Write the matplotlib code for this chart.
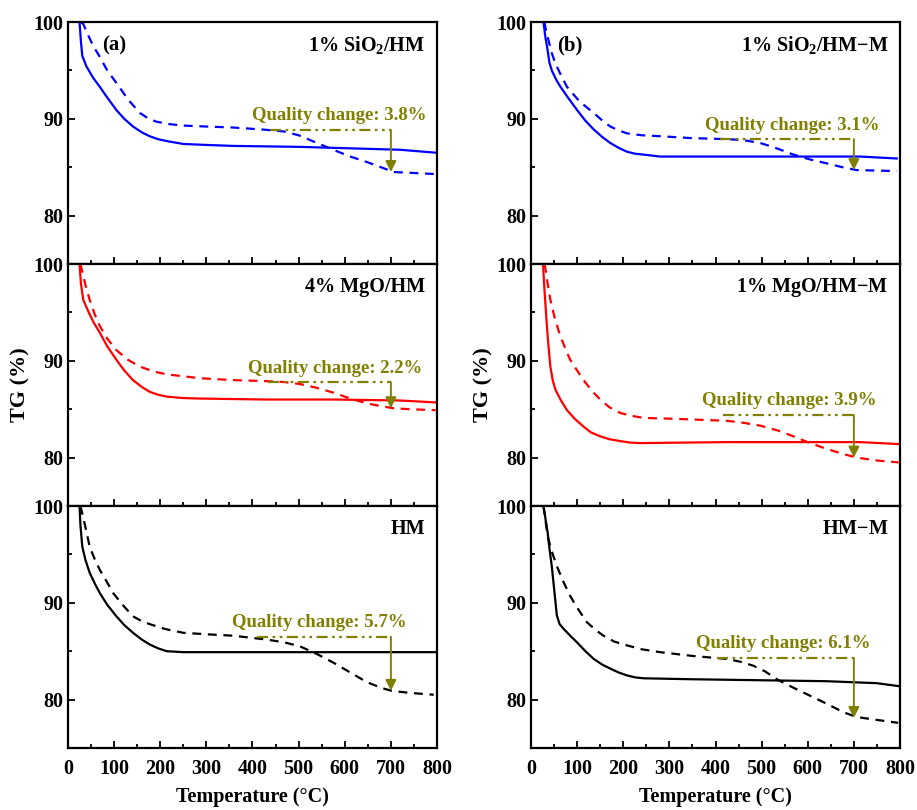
import matplotlib
matplotlib.use("Agg")
import matplotlib.pyplot as plt
from matplotlib.ticker import MultipleLocator

plt.rcParams['font.family'] = ['Liberation Serif', 'DejaVu Serif']
plt.rcParams['font.weight'] = 'bold'
plt.rcParams['mathtext.fontset'] = 'custom'
plt.rcParams['mathtext.rm'] = 'Liberation Serif:bold'
plt.rcParams['mathtext.it'] = 'Liberation Serif:bold'
plt.rcParams['mathtext.bf'] = 'Liberation Serif:bold'

OLIVE = '#807f00'

# ---- data: temperature (°C) and TG (%) ----
# (a) top: 1% SiO2/HM
a1_solid_t = [25, 28, 31, 40, 55, 69, 85, 105, 122, 141, 160, 177, 195, 214, 250, 300, 358, 503, 648, 720, 797]
a1_solid_y = [100.0, 98.0, 96.5, 95.4, 94.2, 93.3, 92.2, 90.9, 90.0, 89.2, 88.6, 88.2, 87.9, 87.7, 87.4, 87.3,
              87.2, 87.1, 86.9, 86.8, 86.5]
a1_dash_t = [28, 33, 45, 55, 69, 85, 105, 130, 156, 175, 192, 220, 250, 300, 358, 420, 467, 500, 540, 575, 612,
             650, 684, 706, 730, 793]
a1_dash_y = [100.0, 99.8, 98.5, 97.5, 96.4, 95.0, 93.7, 92.0, 90.6, 90.0, 89.7, 89.45, 89.3, 89.2, 89.1, 88.9,
             88.7, 88.3, 87.5, 86.8, 86.1, 85.5, 84.9, 84.5, 84.45, 84.3]

# (b) top: 1% SiO2/HM-M
b1_solid_t = [27, 31, 36, 40, 45, 55, 64, 80, 100, 118, 136, 155, 172, 190, 208, 225, 244, 280, 425, 569, 713, 793]
b1_solid_y = [100.0, 98.5, 97.1, 95.8, 95.0, 94.0, 93.3, 92.2, 90.9, 89.8, 88.9, 88.1, 87.5, 87.0, 86.6, 86.4,
              86.3, 86.1, 86.1, 86.1, 86.1, 85.9]
b1_dash_t = [29, 33, 38, 45, 53, 65, 78, 105, 136, 155, 172, 190, 208, 240, 280, 350, 425, 460, 497, 530, 569,
             605, 641, 675, 706, 793]
b1_dash_y = [100.0, 99.0, 98.1, 96.8, 95.7, 94.5, 93.3, 91.8, 90.6, 89.8, 89.2, 88.8, 88.5, 88.3, 88.2, 88.0,
             87.9, 87.8, 87.5, 87.0, 86.3, 85.8, 85.4, 85.0, 84.7, 84.6]

# (a) middle: 4% MgO/HM
a2_solid_t = [25, 28, 33, 45, 55, 69, 85, 105, 122, 141, 160, 177, 195, 214, 250, 286, 431, 576, 720, 797]
a2_solid_y = [100.0, 98.0, 96.3, 95.0, 94.0, 92.9, 91.5, 90.1, 89.0, 88.0, 87.3, 86.8, 86.5, 86.3, 86.15, 86.1,
              86.0, 86.0, 85.9, 85.7]
a2_dash_t = [27, 30, 38, 47, 58, 69, 85, 105, 130, 156, 185, 214, 250, 286, 360, 431, 470, 503, 540, 576, 612,
             648, 680, 706, 740, 797]
a2_dash_y = [100.0, 99.4, 97.8, 96.3, 94.8, 93.6, 92.3, 91.1, 90.1, 89.4, 88.9, 88.6, 88.4, 88.2, 88.0, 87.9,
             87.8, 87.6, 87.2, 86.7, 86.1, 85.6, 85.3, 85.1, 85.0, 84.9]

# (b) middle: 1% MgO/HM-M
b2_solid_t = [26, 29, 33, 37, 42, 47, 53, 65, 78, 95, 114, 130, 150, 170, 194, 215, 237, 425, 569, 713, 797]
b2_solid_y = [100.0, 97.5, 94.6, 92.0, 89.4, 88.0, 87.0, 85.9, 84.9, 84.0, 83.2, 82.6, 82.2, 81.9, 81.7, 81.55,
              81.5, 81.6, 81.6, 81.6, 81.4]
b2_dash_t = [29, 31, 36, 42, 52, 64, 75, 85, 100, 114, 132, 150, 170, 194, 220, 244, 316, 425, 460, 497, 535,
             569, 605, 641, 675, 706, 750, 797]
b2_dash_y = [100.0, 99.6, 98.0, 96.3, 94.3, 92.5, 91.2, 90.1, 89.0, 88.0, 86.9, 86.0, 85.2, 84.6, 84.3, 84.1,
             84.0, 83.8, 83.6, 83.3, 82.8, 82.2, 81.5, 80.9, 80.4, 80.0, 79.7, 79.5]

# (a) bottom: HM
a3_solid_t = [25, 27, 31, 38, 47, 58, 69, 85, 105, 122, 141, 160, 177, 195, 214, 250, 431, 576, 797]
a3_solid_y = [100.0, 98.0, 95.8, 94.4, 93.1, 92.0, 91.0, 89.8, 88.6, 87.7, 86.9, 86.2, 85.7, 85.3, 85.0, 84.9,
              84.9, 84.9, 84.9]
a3_dash_t = [27, 29, 36, 47, 58, 69, 85, 98, 120, 141, 160, 177, 210, 250, 300, 358, 431, 470, 503, 540, 576,
             612, 648, 680, 702, 740, 793]
a3_dash_y = [100.0, 99.6, 98.2, 95.8, 94.5, 93.4, 92.1, 91.0, 89.7, 88.6, 88.1, 87.8, 87.3, 86.9, 86.75, 86.6,
             86.2, 85.9, 85.5, 84.7, 83.8, 82.8, 81.8, 81.2, 80.9, 80.7, 80.5]

# (b) bottom: HM-M
b3_solid_t = [27, 31, 36, 40, 45, 50, 56, 62, 71, 85, 100, 118, 136, 155, 172, 190, 208, 225, 244, 352, 497,
              641, 749, 796]
b3_solid_y = [100.0, 98.8, 97.3, 95.6, 93.8, 91.5, 88.7, 87.8, 87.3, 86.6, 85.9, 85.0, 84.2, 83.6, 83.2, 82.8,
              82.5, 82.3, 82.2, 82.1, 82.0, 81.9, 81.7, 81.4]
b3_dash_t = [27, 30, 36, 45, 56, 70, 85, 100, 121, 140, 157, 180, 208, 240, 280, 352, 425, 455, 482, 508, 533,
             570, 605, 640, 677, 706, 750, 796]
b3_dash_y = [100.0, 99.0, 96.9, 95.3, 93.8, 92.2, 90.7, 89.5, 88.0, 87.2, 86.6, 86.0, 85.6, 85.2, 84.9, 84.5,
             84.2, 83.9, 83.5, 82.9, 82.1, 81.2, 80.4, 79.6, 78.7, 78.2, 77.9, 77.6]

sample_names = [[r'1% SiO$_2$/HM', r'1% SiO$_2$/HM$-$M'],
                ['4% MgO/HM', '1% MgO/HM$-$M'],
                ['HM', 'HM$-$M']]
panel_tags = ['(a)', '(b)']
tag_x = [74, 56]
colors = ['#0000ff', '#ff0000', '#000000']

# quality change annotation: text, text centre, line level, line start, arrow tip
qc_text = [['3.8%', '3.1%'], ['2.2%', '3.9%'], ['5.7%', '6.1%']]
qc_text_x = [[587, 566], [580, 560], [544, 546]]
qc_level = [[88.85, 87.9], [87.8, 84.4], [86.5, 84.3]]
qc_start = [[438, 410], [434, 417], [409, 404]]
qc_tip = [[84.5, 84.7], [85.1, 80.0], [80.9, 78.1]]
qc_x = 700

curves = [[(a1_solid_t, a1_solid_y, a1_dash_t, a1_dash_y), (b1_solid_t, b1_solid_y, b1_dash_t, b1_dash_y)],
          [(a2_solid_t, a2_solid_y, a2_dash_t, a2_dash_y), (b2_solid_t, b2_solid_y, b2_dash_t, b2_dash_y)],
          [(a3_solid_t, a3_solid_y, a3_dash_t, a3_dash_y), (b3_solid_t, b3_solid_y, b3_dash_t, b3_dash_y)]]

fig = plt.figure(figsize=(9.17, 8.10), dpi=100)

col_left = [68 / 917, 531 / 917]
ax_w = 369 / 917
row_bottom = [1 - 264 / 810, 1 - 506 / 810, 1 - 748 / 810]
ax_h = 242 / 810

for r in range(3):
    for c in range(2):
        ax = fig.add_axes([col_left[c], row_bottom[r], ax_w, ax_h])
        st, sy, dt, dy = curves[r][c]
        ax.plot(st, sy, '-', color=colors[r], lw=1.6)
        ax.plot(dt, dy, '--', color=colors[r], lw=1.6, dashes=(4, 3))

        # quality change marker
        ax.plot([qc_start[r][c], qc_x], [qc_level[r][c]] * 2, color=OLIVE, lw=1.6,
                linestyle=(0, (5, 2, 1.2, 2, 1.2, 2)))
        ax.annotate('', xy=(qc_x, qc_tip[r][c]), xytext=(qc_x, qc_level[r][c]),
                    arrowprops=dict(arrowstyle='-|>', color=OLIVE, lw=1.4,
                                    mutation_scale=16, shrinkA=0, shrinkB=0))
        ax.text(qc_text_x[r][c], qc_level[r][c] + 1.45, 'Quality change: ' + qc_text[r][c],
                color=OLIVE, fontsize=13.5, ha='center', va='center', fontweight='bold')

        ax.text(775, 97.6, sample_names[r][c], fontsize=14.5, ha='right', va='center',
                fontweight='bold')
        if r == 0:
            ax.text(tag_x[c], 97.6, panel_tags[c], fontsize=15, ha='left',
                    va='center', fontweight='bold')

        ax.set_xlim(0, 800)
        ax.set_ylim(75, 100)
        ax.xaxis.set_major_locator(MultipleLocator(100))
        ax.xaxis.set_minor_locator(MultipleLocator(50))
        ax.yaxis.set_major_locator(MultipleLocator(10))
        ax.yaxis.set_minor_locator(MultipleLocator(5))
        ax.tick_params(which='both', direction='in', top=False, right=False, labelsize=14.5)
        ax.tick_params(which='major', length=5, width=1.3)
        ax.tick_params(which='minor', length=3, width=1.3)
        ax.tick_params(axis='x', pad=8)
        for s in ax.spines.values():
            s.set_linewidth(1.6)
        for lab in ax.get_xticklabels() + ax.get_yticklabels():
            lab.set_fontweight('bold')
        if r < 2:
            ax.tick_params(axis='x', labelbottom=False)
        else:
            ax.set_xlabel('Temperature (°C)', fontsize=14.5, fontweight='bold', labelpad=6)
        if r == 1:
            ax.set_ylabel('TG (%)', fontsize=16, fontweight='bold', labelpad=2)

fig.savefig('out.png', dpi=100)
